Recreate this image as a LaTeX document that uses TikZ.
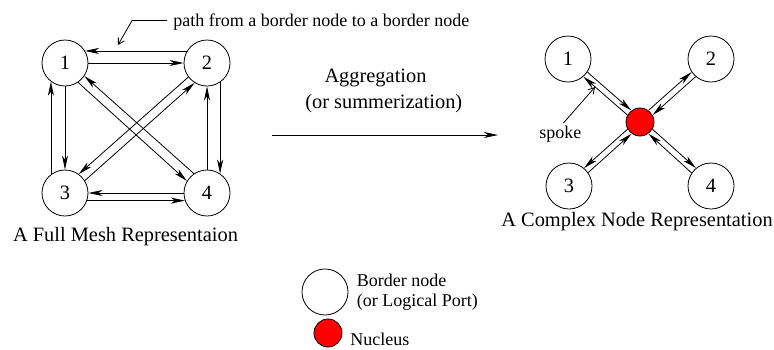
\documentclass[tikz,border=0pt]{standalone}
\usepackage{fontspec}
\setmainfont{Liberation Serif}
\usetikzlibrary{arrows.meta, positioning}
\newcommand{\labelsize}{\fontsize{20.4}{24}\selectfont}
\newcommand{\notesize}{\fontsize{18}{20.5}\selectfont}

\begin{document}
\begin{tikzpicture}[x=1pt, y=-1pt, line width=0.8pt,
        port/.style={circle, draw, minimum size=46pt, inner sep=0pt, font=\labelsize},
        nucleus/.style={circle, draw, fill=red, minimum size=28pt, inner sep=0pt},
        arr/.style={-{Stealth[length=14pt, width=6pt, inset=4pt]}},
        pointer/.style={-{Straight Barb[length=6pt, width=7pt]}},
        caption/.style={font=\labelsize, inner sep=0pt, anchor=base},
        note/.style={font=\notesize, inner sep=0pt}]
        \useasboundingbox (0,0) rectangle (774,349);

        % Full Mesh
        \foreach \n/\x/\y in {1/65/63, 2/207/63, 3/65/193, 4/207/193}
            \node[port] (m\n) at (\x,\y) {\n};
        \foreach \a/\b in {m1.0/m2.180, m2.149/m1.31, m1.270/m3.90, m3.127/m1.233,
                m2.304/m4.56, m4.90/m2.270, m4.180/m3.0, m3.-19/m4.199,
                m1.-56/m4.149, m4.124/m1.-34, m2.217/m3.54, m3.32/m2.238}
            \draw[arr] (\a) -- (\b);
        \node[caption] (meshcap) at (125.5,241.7) {A Full Mesh Representaion};

        % Path note
        \node[note, anchor=base west] (pathnote) at (173,26.5) {path from a border node to a border node};
        \coordinate (pathtip) at (118,45);
        \draw[pointer] ([xshift=-6pt, yshift=1.5pt]pathnote.west) -- ++(-35,0) -- (pathtip);

        % Aggregation
        \coordinate (aggfrom) at (272,135);
        \coordinate (aggto) at (498,135);
        \draw[arr] (aggfrom) -- (aggto);
        \node[caption] (aggtext) at (375.5,82.7) {Aggregation};
        \node[caption] (aggsub) at (383.8,108.3) {(or summerization)};

        % Complex Node
        \foreach \n/\x/\y in {1/568/59, 2/711/59, 3/569/186, 4/711/186}
            \node[port] (c\n) at (\x,\y) {\n};
        \node[nucleus] (nuc) at (640,122) {};
        \foreach \a/\b in {c1.-34/nuc.127, nuc.151/c1.-49, c2.229/nuc.29, nuc.54/c2.214,
                c3.35/nuc.234, nuc.210/c3.50, c4.146/nuc.306, nuc.330/c4.130}
            \draw[arr] (\a) -- (\b);
        \node[caption] (complexcap) at (637,226.7) {A Complex Node Representation};

        % Spoke note
        \node[note, anchor=base west] (spokenote) at (539,138) {spoke};
        \coordinate (spoketip) at (595,87);
        \draw[pointer] ([xshift=3pt, yshift=2pt]spokenote.north) -- (spoketip);

        % Legend
        \node[port] (legport) at (325,292) {};
        \node[note, right=8pt of legport, align=left] (legporttext) {Border node\\(or Logical Port)};
        \node[nucleus] (legnuc) at (328,333) {};
        \node[note, anchor=base west] (legnuctext) at (350,345) {Nucleus};
    \end{tikzpicture}
\end{document}
